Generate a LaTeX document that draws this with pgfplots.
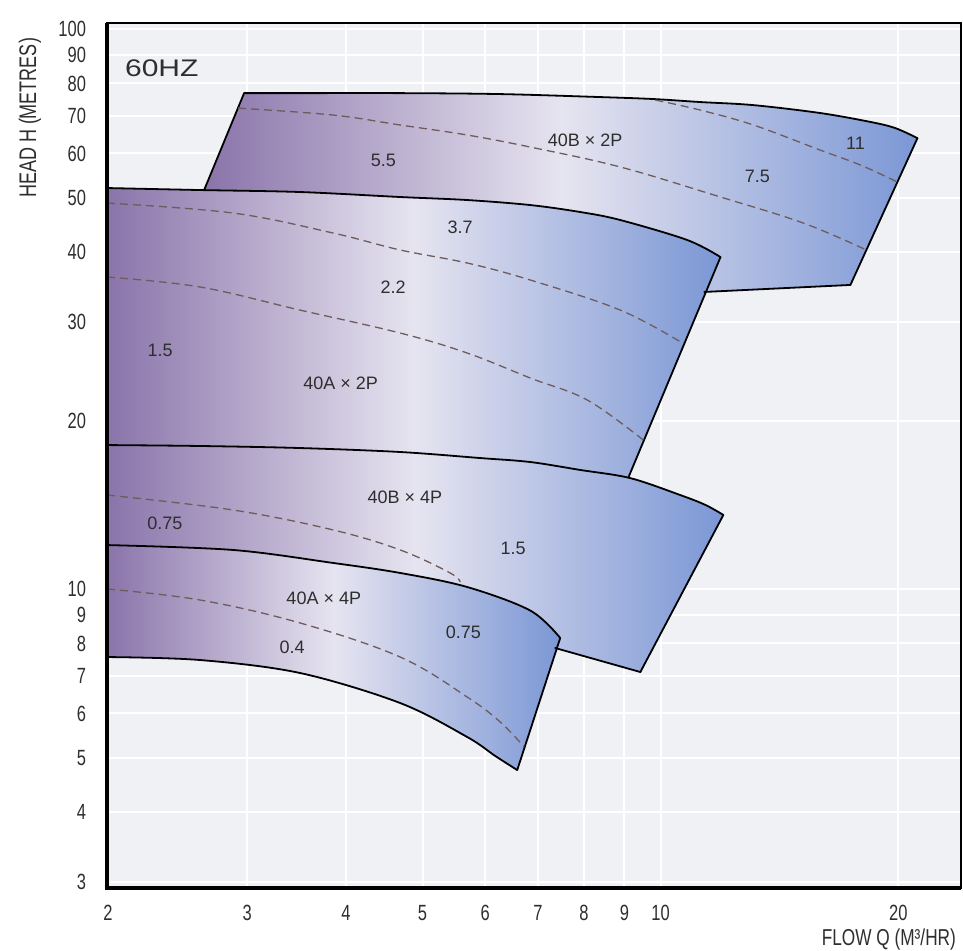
\documentclass[border=0pt]{standalone}
\usepackage{fontspec}
\setmainfont{Liberation Sans}
\newfontfamily\condfont[FakeStretch=0.75]{Liberation Sans}
\newfontfamily\widefont[FakeStretch=1.25]{Liberation Sans}
\usepackage{pgfplots}
\usepgfplotslibrary{fillbetween}
\pgfplotsset{compat=1.18}

\definecolor{bgc}{HTML}{F0F1F5}
\definecolor{purp}{HTML}{8A74AA}
\definecolor{midc}{HTML}{E6E4F0}
\definecolor{blu}{HTML}{7B97D5}
\definecolor{dashc}{HTML}{6E5C5C}
\definecolor{txt}{HTML}{2E2E2E}

\pgfplotsset{
  region/.style={draw=none, left color=purp, right color=blu, middle color=midc},
  edge/.style={black, line width=0.9pt, line cap=round, line join=round, mark=none},
  crv/.style={edge, smooth, tension=0.55},
  hid/.style={draw=none, mark=none},
  dsh/.style={dashc, line width=0.65pt, dash pattern=on 4pt off 2.5pt,
    mark=none, smooth, tension=0.6},
}
\tikzset{lbl/.style={font=\fontsize{9}{9}\selectfont, text=txt}}

\begin{document}
\begin{tikzpicture}
\begin{axis}[
  set layers,
  width=427pt, height=432.5pt, scale only axis,
  xmode=log, ymode=log,
  xmin=1.994, xmax=24.0, ymin=2.927, ymax=102.6,
  xtick={2,3,4,5,6,7,8,9,10,20},
  xticklabels={2,3,4,5,6,7,8,9,10,20},
  ytick={3,4,5,6,7,8,9,10,20,30,40,50,60,70,80,90,100},
  yticklabels={3,4,5,6,7,8,9,10,20,30,40,50,60,70,80,90,100},
  major tick length=0pt, minor tick length=0pt,
  grid=major, grid style={white, line width=1pt},
  axis background/.style={fill=bgc},
  axis line style={black, line width=0.6pt},
  ticklabel style={font=\condfont\fontsize{11}{11}\selectfont, text=txt},
  xticklabel style={yshift=-5pt},
  yticklabel style={xshift=-7pt},
  clip=false,
  /pgf/number format/assume math mode=true,
]
\coordinate (bl) at (rel axis cs:0,0);

% 40B x 2P
\addplot[crv, name path=Atop] coordinates {
 (2.973,76.9) (3.500,76.9) (4.685,76.9) (6.270,76.6) (8.390,75.67) (9.793,75.05)
 (11.23,74.13) (13.11,73.2) (15.93,70.85) (18.44,68.3) (19.82,66.6) (21.14,63.9)
};
\addplot[hid, name path=Abot] coordinates {
 (2.646,51.62) (3.500,48.13) (5.418,42.9) (8.390,37.15) (11.36,33.95) (17.39,34.94)
};
\addplot[region] fill between[of=Atop and Abot];
\addplot[edge] coordinates {(2.973,76.9) (2.646,51.62)};
\addplot[edge] coordinates {(21.14,63.9) (17.39,34.94)};
\addplot[edge] coordinates {(11.36,33.95) (17.39,34.94)};
\addplot[dsh] coordinates {
 (2.921,72.3) (3.853,70.27) (4.685,67.45) (5.694,64.73) (6.843,61.6) (8.895,56.75)
 (11.91,50.16) (15.16,45.07) (18.22,40.34)
};
\addplot[dsh] coordinates {
 (9.85,74.74) (11.23,71.72) (13.11,67.45) (15.93,60.83) (17.9,57.22) (19.94,53.35)
};

% 40A x 2P
\addplot[crv, name path=Btop] coordinates {
 (1.994,52.05) (2.615,51.62) (3.500,51.2) (4.685,50.16) (5.694,49.54) (6.843,48.53)
 (7.914,47.16) (8.895,45.63) (10.81,42.03) (11.91,39.19)
};
\addplot[hid, smooth, tension=0.55, name path=Bbot] coordinates {
 (1.994,18.09) (2.615,18.02) (3.500,17.87) (4.685,17.58) (5.914,17.15) (6.843,16.87)
 (7.914,16.33) (9.105,15.82)
};
\addplot[region] fill between[of=Btop and Bbot];
\addplot[edge] coordinates {(11.91,39.19) (9.105,15.82)};
\addplot[dsh] coordinates {
 (1.994,48.93) (2.879,46.96) (3.853,43.26) (4.685,40.34) (5.694,38.24) (6.843,35.66)
 (8.895,31.51) (10.66,27.52)
};
\addplot[dsh] coordinates {
 (1.994,36.10) (2.615,34.65) (3.500,31.51) (4.685,28.67) (5.694,26.41) (6.843,23.83)
 (8.078,21.77) (9.511,18.47)
};

% 40B x 4P
\addplot[crv, name path=Ctop] coordinates {
 (1.994,18.09) (2.615,18.02) (3.500,17.87) (4.685,17.58) (5.914,17.15) (6.843,16.87)
 (7.914,16.33) (9.158,15.79) (10.59,14.73) (11.40,14.14) (12.01,13.57)
};
\addplot[hid, name path=Cbot] coordinates {
 (1.994,10.82) (2.615,10.60) (3.500,10.17) (4.685,9.565) (6.270,8.631) (7.358,7.853)
 (9.430,7.114)
};
\addplot[region] fill between[of=Ctop and Cbot];
\addplot[edge] coordinates {(12.01,13.57) (9.430,7.114)};
\addplot[edge] coordinates {(7.358,7.853) (9.430,7.114)};
\addplot[dsh] coordinates {
 (1.994,14.73) (2.879,13.85) (3.853,12.76) (4.685,11.75) (5.418,10.69) (5.579,10.30)
};

% 40A x 4P
\addplot[crv, name path=Dtop] coordinates {
 (1.994,11.99) (2.879,11.75) (3.853,11.14) (4.685,10.69) (5.694,10.09)
 (6.843,9.16) (7.467,8.182)
};
\addplot[crv, name path=Dbot] coordinates {
 (1.994,7.567) (2.615,7.474) (3.500,7.085) (4.685,6.262) (5.694,5.446) (6.179,5.037)
 (6.588,4.754)
};
\addplot[region] fill between[of=Dtop and Dbot];
\addplot[edge] coordinates {(7.467,8.182) (6.588,4.754)};
\addplot[dsh] coordinates {
 (1.994,10.01) (2.615,9.565) (3.500,8.703) (4.685,7.567) (5.694,6.419) (6.270,5.792)
 (6.724,5.227)
};

% labels
\node[anchor=west, font=\widefont\fontsize{12}{12}\selectfont, text=txt] at (axis cs:2.059,85.2) {60HZ};
\node[lbl] at (axis cs:8.03,63.4) {40B × 2P};
\node[lbl] at (axis cs:4.46,58.4) {5.5};
\node[lbl] at (axis cs:13.26,54.7) {7.5};
\node[lbl] at (axis cs:17.65,62.6) {11};
\node[lbl] at (axis cs:5.58,44.2) {3.7};
\node[lbl] at (axis cs:4.59,34.65) {2.2};
\node[lbl] at (axis cs:2.327,26.7) {1.5};
\node[lbl] at (axis cs:3.94,23.35) {40A × 2P};
\node[lbl] at (axis cs:4.75,14.6) {40B × 4P};
\node[lbl] at (axis cs:2.36,13.13) {0.75};
\node[lbl] at (axis cs:6.51,11.85) {1.5};
\node[lbl] at (axis cs:3.75,9.64) {40A × 4P};
\node[lbl] at (axis cs:5.63,8.39) {0.75};
\node[lbl] at (axis cs:3.42,7.89) {0.4};

\draw[black, line width=1.6pt] (rel axis cs:0,1) -- (rel axis cs:0,0) -- (rel axis cs:1,0);
\end{axis}

\node[rotate=90, font=\condfont\fontsize{12}{12}\selectfont, text=txt] at ([xshift=-38.5pt, yshift=385pt]bl) {HEAD H (METRES)};
\node[anchor=east, font=\condfont\fontsize{11.5}{11.5}\selectfont, text=txt] at ([xshift=428pt, yshift=-26pt]bl) {FLOW Q (M³/HR)};
\pgfresetboundingbox
\path ([xshift=-53.5pt, yshift=-31.5pt]bl) rectangle ([xshift=428pt, yshift=444pt]bl);
\end{tikzpicture}
\end{document}
